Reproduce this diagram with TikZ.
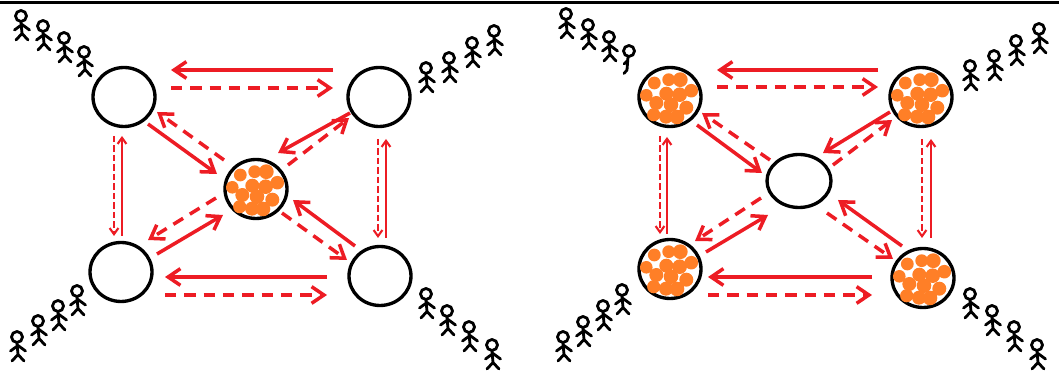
\documentclass[tikz,border=0pt]{standalone}
\usepackage{tikz}
\usetikzlibrary{arrows.meta,shapes.geometric}
\definecolor{arrowred}{HTML}{ED1C24}
\definecolor{dotorange}{HTML}{FF7F27}

% the dots inside a full server
\newcommand{\filldots}[1]{
  \foreach \dx/\dy/\dr in {-15.7/-14/6.4,-1.3/-17.3/6.4,10.3/-17.3/7.4,21.3/-6.3/6.8,-23.7/-1.7/6.3,-3.7/-3.3/7,9.7/-2.3/7.3,-13.7/6/7,1/7.7/7.3,16.3/10.7/7,-16.3/17.7/6.6,-4/19.7/7,7/20/7.3}
    \fill[dotorange] ([shift={(\dx,\dy)}]#1.center) circle [radius=\dr];
}

\tikzset{
  person/.pic={
    \draw[line width=1.6pt,line cap=round,line join=round]
      (0,0) circle [radius=5.5]
      (0,6) -- (1,17.5) -- (-5,24)
      (1,17.5) -- (7,24)
      (-6.5,14) -- (1,8.5) -- (8.5,14);
  },
  halfperson/.pic={
    \draw[line width=1.6pt,line cap=round,line join=round]
      (0,0) circle [radius=5.5]
      (-1,6) -- (-2,19) -- (-5,22.5)
      (-5,13) -- (-1,9);
  }
}

\begin{document}
\begin{tikzpicture}[
    x=0.02cm, y=-0.02cm,
    server/.style={
      ellipse,
      draw=black,
      line width=1.9pt,
      inner sep=0pt,
      minimum width=1.24cm,
      minimum height=1.18cm
    },
    link/.style={
      arrowred,
      line width=2pt,
      -{Straight Barb[length=7pt,width=9.5pt]}
    },
    dashlink/.style={
      link,
      dash pattern=on 6.5pt off 4.5pt
    },
    thinlink/.style={
      arrowred,
      line width=1.2pt,
      -{Straight Barb[length=3.5pt,width=5pt]}
    },
    thindash/.style={
      thinlink,
      dash pattern=on 3.6pt off 1.8pt
    }
]

\useasboundingbox (0,0) rectangle (1059,377);
\coordinate (topleft) at (0,2.8);
\coordinate (topright) at (1059,2.8);
\draw[black,line width=1.5pt] (topleft) -- (topright);

%% Left panel
\node [server] (tlA) at (124,97) {};
\node [server] (trA) at (379,97) {};
\node [server] (cenA) at (256,189) {};
\node [server] (blA) at (121,272) {};
\node [server] (brA) at (380,276) {};
\filldots{cenA}

%% Right panel
\node [server] (tlB) at (670,97) {};
\node [server] (trB) at (921,97) {};
\node [server, minimum width=1.28cm, minimum height=1.06cm] (cenB) at (799,181) {};
\node [server] (blB) at (670,269) {};
\node [server] (brB) at (923,278) {};
\filldots{tlB}
\filldots{trB}
\filldots{blB}
\filldots{brB}

%% People
\foreach \px/\py in {21/16,43/26,64/38,84/52,426/68,449/58,472/43,494/31,426/294,447/311,469/327,492/345,17/337,38/321,58/306,77/291}
  \pic at (\px,\py) {person};
\foreach \px/\py in {566/14,588/25,609/37,970/66,994/56,1016/41,1039/29,970/294,992/311,1014/327,1037/345,563/337,583/322,603/306,622/290}
  \pic at (\px,\py) {person};
\pic at (629,51) {halfperson};

%%% Arrows, left panel
\draw [link] ([shift={(-46,-27)}]trA.center) -- ([shift={(47,-27)}]tlA.center);
\draw [dashlink] ([shift={(47,-9)}]tlA.center) -- ([shift={(-46,-9)}]trA.center);
\draw [thindash] ([shift={(-10,39)}]tlA.center) -- ([shift={(-7,-36)}]blA.center);
\draw [thinlink] ([shift={(1,-36)}]blA.center) -- ([shift={(-2,39)}]tlA.center);
\draw [thindash] ([shift={(-1,42)}]trA.center) -- ([shift={(-2,-38)}]brA.center);
\draw [thinlink] ([shift={(6,-38)}]brA.center) -- ([shift={(7,42)}]trA.center);
\draw [link] ([shift={(24,27)}]tlA.center) -- ([shift={(-39,-15)}]cenA.center);
\draw [dashlink] ([shift={(-32,-29)}]cenA.center) -- ([shift={(33,15)}]tlA.center);
\draw [link] ([shift={(-29,16)}]trA.center) -- ([shift={(22,-36)}]cenA.center);
\draw [dashlink] ([shift={(32,-24)}]cenA.center) -- ([shift={(-30,21)}]trA.center);
\draw [link] ([shift={(-25,-30)}]brA.center) -- ([shift={(37,11)}]cenA.center);
\draw [dashlink] ([shift={(26,24)}]cenA.center) -- ([shift={(-33,-16)}]brA.center);
\draw [link] ([shift={(36,-18)}]blA.center) -- ([shift={(-33,26)}]cenA.center);
\draw [dashlink] ([shift={(-40,9)}]cenA.center) -- ([shift={(27,-32)}]blA.center);
\draw [link] ([shift={(-53,1)}]brA.center) -- ([shift={(44,5)}]blA.center);
\draw [dashlink] ([shift={(44,23)}]blA.center) -- ([shift={(-53,19)}]brA.center);

%%% Arrows, right panel
\draw [link] ([shift={(-43,-27)}]trB.center) -- ([shift={(47,-27)}]tlB.center);
\draw [dashlink] ([shift={(47,-10)}]tlB.center) -- ([shift={(-43,-10)}]trB.center);
\draw [thindash] ([shift={(-10,39)}]tlB.center) -- ([shift={(-10,-35)}]blB.center);
\draw [thinlink] ([shift={(-3,-35)}]blB.center) -- ([shift={(-3,40)}]tlB.center);
\draw [thindash] ([shift={(1,42)}]trB.center) -- ([shift={(-1,-40)}]brB.center);
\draw [thinlink] ([shift={(8,-40)}]brB.center) -- ([shift={(10,42)}]trB.center);
\draw [link] ([shift={(27,28)}]tlB.center) -- ([shift={(-37,-8)}]cenB.center);
\draw [dashlink] ([shift={(-29,-21)}]cenB.center) -- ([shift={(32,16)}]tlB.center);
\draw [link] ([shift={(-31,15)}]trB.center) -- ([shift={(24,-28)}]cenB.center);
\draw [dashlink] ([shift={(34,-16)}]cenB.center) -- ([shift={(-29,23)}]trB.center);
\draw [link] ([shift={(-21,-32)}]brB.center) -- ([shift={(39,19)}]cenB.center);
\draw [dashlink] ([shift={(28,32)}]cenB.center) -- ([shift={(-30,-19)}]brB.center);
\draw [link] ([shift={(36,-17)}]blB.center) -- ([shift={(-31,34)}]cenB.center);
\draw [dashlink] ([shift={(-38,17)}]cenB.center) -- ([shift={(25,-28)}]blB.center);
\draw [link] ([shift={(-51,-1)}]brB.center) -- ([shift={(38,8)}]blB.center);
\draw [dashlink] ([shift={(38,26)}]blB.center) -- ([shift={(-51,17)}]brB.center);

\end{tikzpicture}
\end{document}
